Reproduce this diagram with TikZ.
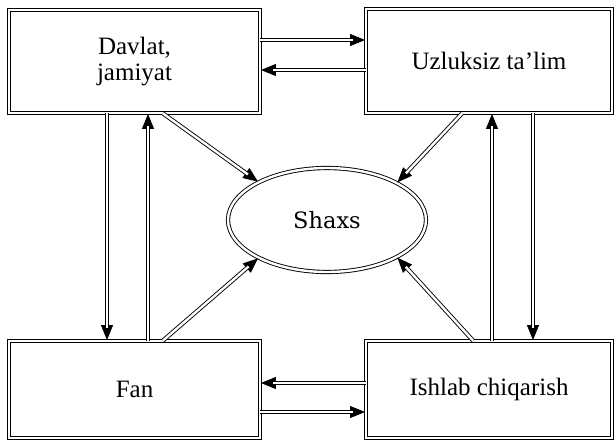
\documentclass[tikz,border=0pt]{standalone}
\usepackage{fontspec}
\setmainfont{Liberation Serif}
\newfontfamily\dvs{DejaVu Serif}
\usetikzlibrary{arrows.meta,shapes.geometric}
\begin{document}
\begin{tikzpicture}[x=1pt,y=-1pt,
  box/.style={draw, double, double distance=2.4pt, line width=0.9pt, rectangle, inner sep=0pt, align=center, font=\fontsize{25}{26}\selectfont},
  oval/.style={draw, double, double distance=2.4pt, line width=0.9pt, ellipse, inner sep=0pt, font=\dvs\fontsize{22.5}{26}\selectfont},
  arr/.style={draw, line width=0.9pt, -{Triangle[length=15pt,width=12pt]}, shorten >=0.5pt,
    postaction={draw, -, double, double distance=2.4pt, line width=0.9pt, shorten >=13pt}}]
\useasboundingbox (0,0) rectangle (614,440);
\fill[white] (0,0) rectangle (614,440);
\node[box, minimum width=251pt, minimum height=103pt] (tl) at (134.5,61.5) {Davlat,\\jamiyat};
\node[box, minimum width=246pt, minimum height=104pt] (tr) at (489,61) {Uzluksiz ta’lim};
\node[box, minimum width=251pt, minimum height=97pt] (bl) at (134.5,389.5) {Fan};
\node[box, minimum width=246pt, minimum height=97pt] (br) at (489,389.5) {Ishlab chiqarish};
\node[oval, minimum width=198pt, minimum height=104pt] (s) at (327,220) {Shaxs};
\coordinate (ya) at (0,40);
\coordinate (yb) at (0,70);
\coordinate (yc) at (0,383);
\coordinate (yd) at (0,412);
\coordinate (xa) at (107,0);
\coordinate (xb) at (148,0);
\coordinate (xc) at (492,0);
\coordinate (xd) at (533,0);
\coordinate (xe) at (163,0);
\coordinate (xf) at (462,0);
\coordinate (xg) at (473,0);
\draw[arr] (tl.east |- ya) -- (tr.west |- ya);
\draw[arr] (tr.west |- yb) -- (tl.east |- yb);
\draw[arr] (br.west |- yc) -- (bl.east |- yc);
\draw[arr] (bl.east |- yd) -- (br.west |- yd);
\draw[arr] (tl.south -| xa) -- (bl.north -| xa);
\draw[arr] (bl.north -| xb) -- (tl.south -| xb);
\draw[arr] (br.north -| xc) -- (tr.south -| xc);
\draw[arr] (tr.south -| xd) -- (br.north -| xd);
\draw[arr] (tl.south -| xe) -- (s.151.5);
\draw[arr] (tr.south -| xf) -- (s.28.5);
\draw[arr] (bl.north -| xe) -- (s.-151.5);
\draw[arr] (br.north -| xg) -- (s.-28.5);
\end{tikzpicture}
\end{document}
